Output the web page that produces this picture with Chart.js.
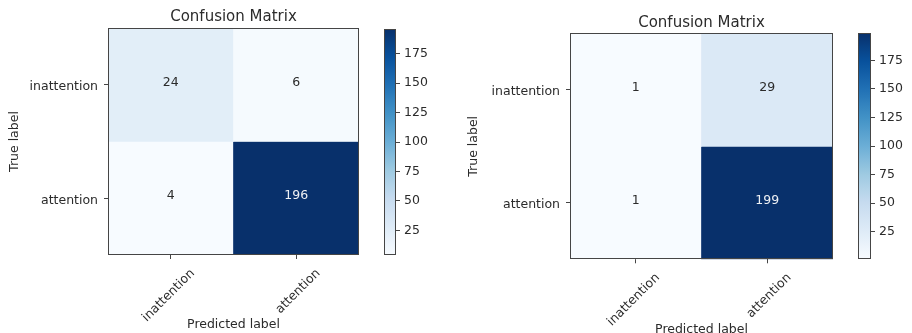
<!DOCTYPE html>
<html>
<head>
<meta charset="utf-8">
<script src="https://cdn.jsdelivr.net/npm/chart.js@4/dist/chart.umd.min.js"></script>
<style>
  html, body { margin: 0; padding: 0; background: #fff; overflow: hidden; width: 912px; height: 333px; }
  canvas { position: absolute; top: 0; }
</style>
</head>
<body>
<canvas id="cmA" width="375" height="333" style="left:0px"></canvas>
<canvas id="cbA" width="60" height="333" style="left:378px"></canvas>
<canvas id="cmB" width="390" height="340" style="left:456px"></canvas>
<canvas id="cbB" width="60" height="333" style="left:852px"></canvas>
<script>
// Class names (rows = true label, columns = predicted label)
const classNames = ['inattention', 'attention'];

// Confusion matrix counts, one array per true-label row
const matrixA_inattention = [24, 6];
const matrixA_attention = [4, 196];
const matrixB_inattention = [1, 29];
const matrixB_attention = [1, 199];

// Colour bar tick labels
const colorbarTicks = [25, 50, 75, 100, 125, 150, 175];

const titleText = 'Confusion Matrix';
const xTitle = 'Predicted label';
const yTitle = 'True label';

const FONT = 'DejaVu Sans';
const TEXT = '#2b2b2b';
const FRAME = '#454545';

// matplotlib "Blues" colormap stops
const BLUES = ['#f7fbff', '#deebf7', '#c6dbef', '#9ecae1', '#6baed6', '#4292c6', '#2171b5', '#08519c', '#08306b'];

function hexToRgb(h) {
  return [parseInt(h.slice(1, 3), 16), parseInt(h.slice(3, 5), 16), parseInt(h.slice(5, 7), 16)];
}
function blues(t) {
  t = Math.max(0, Math.min(1, t));
  const pos = t * (BLUES.length - 1);
  const i = Math.min(Math.floor(pos), BLUES.length - 2);
  const f = pos - i;
  const a = hexToRgb(BLUES[i]), b = hexToRgb(BLUES[i + 1]);
  const c = a.map((v, k) => Math.round(v + (b[k] - v) * f));
  return `rgb(${c[0]},${c[1]},${c[2]})`;
}

// Dark outline around the plotting area
const framePlugin = {
  id: 'frame',
  afterDraw(chart) {
    const { ctx, chartArea: a } = chart;
    ctx.save();
    ctx.strokeStyle = FRAME;
    ctx.lineWidth = 1;
    ctx.strokeRect(Math.round(a.left) + 0.5, Math.round(a.top) + 0.5,
                   Math.round(a.right - a.left) - 1, Math.round(a.bottom - a.top) - 1);
    ctx.restore();
  }
};

// Count written in the middle of each cell
const cellTextPlugin = {
  id: 'cellText',
  afterDatasetsDraw(chart, args, opts) {
    const { ctx, scales } = chart;
    const m = opts.matrix;
    const thresh = Math.max(...m.flat()) / 2;
    ctx.save();
    ctx.font = `12.5px "${FONT}"`;
    ctx.textAlign = 'center';
    ctx.textBaseline = 'middle';
    m.forEach((row, r) => row.forEach((v, c) => {
      ctx.fillStyle = v > thresh ? '#eef0f4' : TEXT;
      ctx.fillText(String(v), scales.x.getPixelForValue(c), scales.y.getPixelForValue(r + 0.5) - 2.5);
    }));
    ctx.restore();
  }
};

function makeMatrix(id, matrix, g) {
  const flat = matrix.flat();
  const vmin = Math.min(...flat), vmax = Math.max(...flat);
  const datasets = matrix.map((row, r) => ({
    data: row.map(() => [r, r + 1]),
    backgroundColor: row.map(v => blues((v - vmin) / (vmax - vmin))),
    borderWidth: 0,
    barPercentage: 1,
    categoryPercentage: 1,
    grouped: false,
    xAxisID: 'x'
  }));
  return new Chart(document.getElementById(id), {
    type: 'bar',
    data: { labels: classNames, datasets },
    plugins: [framePlugin, cellTextPlugin],
    options: {
      responsive: false,
      animation: false,
      devicePixelRatio: 1,
      layout: { padding: { left: 0, right: g.padRight, top: 0, bottom: 0 } },
      plugins: {
        legend: { display: false },
        tooltip: { enabled: false },
        cellText: { matrix }
      },
      scales: {
        x: {
          type: 'category',
          offset: true,
          grid: { display: true, offset: false, drawOnChartArea: false, drawTicks: true, tickLength: 4, color: FRAME },
          border: { display: false },
          ticks: { color: TEXT, font: { family: FONT, size: 12.5 }, minRotation: 45, maxRotation: 45, padding: 7, labelOffset: 22, autoSkip: false },
          title: { display: true, text: xTitle, color: TEXT, font: { family: FONT, size: 12.5 }, padding: { top: 0, bottom: g.xTitlePad } },
          afterFit(s) { s.height = g.xHeight; }
        },
        // top axis carries the chart title, centred over the plotting area
        xTop: {
          type: 'category',
          position: 'top',
          offset: true,
          grid: { display: false },
          border: { display: false },
          ticks: { display: false },
          title: {
            display: true, text: titleText, color: TEXT,
            font: { family: FONT, size: 15, lineHeight: 1.2 },
            padding: { top: g.titleTop, bottom: 0 }
          },
          afterFit(s) { s.height = g.topHeight; }
        },
        y: {
          type: 'linear',
          min: 0, max: matrix.length, reverse: true,
          grid: { display: true, drawOnChartArea: false, drawTicks: true, tickLength: 4, color: FRAME },
          border: { display: false },
          afterBuildTicks(s) { s.ticks = classNames.map((_, i) => ({ value: i + 0.5 })); },
          ticks: {
            color: TEXT, font: { family: FONT, size: 12.5 }, padding: 6, labelOffset: 2, autoSkip: false,
            callback: v => classNames[Math.floor(v)]
          },
          title: { display: true, text: yTitle, color: TEXT, font: { family: FONT, size: 12.5 }, padding: { top: g.yTitlePad, bottom: 0 } },
          afterFit(s) { s.width = g.yWidth; }
        }
      }
    }
  });
}

function makeColorbar(id, matrix, g) {
  const flat = matrix.flat();
  const vmin = Math.min(...flat), vmax = Math.max(...flat);
  return new Chart(document.getElementById(id), {
    type: 'bar',
    data: {
      labels: [''],
      datasets: [{
        data: [[vmin, vmax]],
        borderWidth: 0,
        barPercentage: 1,
        categoryPercentage: 1,
        backgroundColor(ctx) {
          const a = ctx.chart.chartArea;
          if (!a) return BLUES[0];
          const grad = ctx.chart.ctx.createLinearGradient(0, a.bottom, 0, a.top);
          for (let i = 0; i <= 32; i++) grad.addColorStop(i / 32, blues(i / 32));
          return grad;
        }
      }]
    },
    plugins: [framePlugin],
    options: {
      responsive: false,
      animation: false,
      devicePixelRatio: 1,
      layout: { padding: { left: g.left, right: 0, top: g.top, bottom: g.bottom } },
      plugins: { legend: { display: false }, tooltip: { enabled: false } },
      scales: {
        x: { display: false },
        y: {
          type: 'linear', position: 'right', min: vmin, max: vmax,
          grid: { display: true, drawOnChartArea: false, drawTicks: true, tickLength: 4, color: FRAME },
          border: { display: false },
          afterBuildTicks(s) { s.ticks = colorbarTicks.map(v => ({ value: v })); },
          ticks: { color: TEXT, font: { family: FONT, size: 12.5 }, padding: 4, autoSkip: false },
          afterFit(s) { s.width = g.yWidth; }
        }
      }
    }
  });
}

const matrixA = [matrixA_inattention, matrixA_attention];
const matrixB = [matrixB_inattention, matrixB_attention];

makeMatrix('cmA', matrixA, { padRight: 16, titleTop: 8, topHeight: 28, xHeight: 78, xTitlePad: 0.5, yWidth: 108, yTitlePad: 7.5 });
makeColorbar('cbA', matrixA, { left: 6, top: 29, bottom: 78, yWidth: 42 });
makeMatrix('cmB', matrixB, { padRight: 13, titleTop: 13.7, topHeight: 33.3, xHeight: 80.7, xTitlePad: 2.5, yWidth: 114, yTitlePad: 10.5 });
makeColorbar('cbB', matrixB, { left: 6, top: 33, bottom: 74, yWidth: 41 });
</script>
</body>
</html>
